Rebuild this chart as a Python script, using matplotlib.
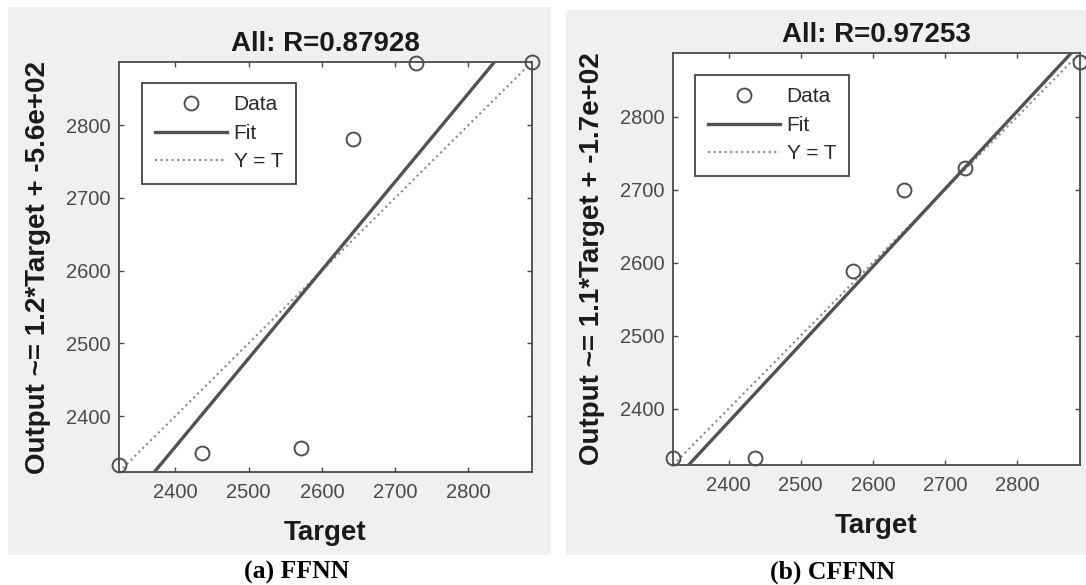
import numpy as np
import matplotlib
matplotlib.use("Agg")
import matplotlib.pyplot as plt
from matplotlib.patches import Rectangle

# ---- data ----
targets = [2323, 2436, 2572, 2643, 2728, 2887]
outputs_ffnn = [2332, 2349, 2356, 2781, 2886, 2887]
outputs_cffnn = [2332, 2332, 2588, 2700, 2730, 2874]
titles = ["All: R=0.87928", "All: R=0.97253"]
ylabels = ["Output ~= 1.2*Target + -5.6e+02", "Output ~= 1.1*Target + -1.7e+02"]
captions = ["(a) FFNN", "(b) CFFNN"]
ticks = [2400, 2500, 2600, 2700, 2800]

W, H = 1086, 585
fig = plt.figure(figsize=(W / 100, H / 100), dpi=100)
fig.patch.set_facecolor("white")

SANS = ["Liberation Sans", "DejaVu Sans"]
SERIF = ["Liberation Serif", "DejaVu Serif"]

def px_rect(x0, y0, x1, y1):
    return [x0 / W, 1 - y1 / H, (x1 - x0) / W, (y1 - y0) / H]

# gray panel backgrounds
for (x0, y0, x1, y1) in [(8, 7, 551, 555), (566, 10, 1086, 555)]:
    r = px_rect(x0, y0, x1, y1)
    rect = Rectangle((r[0], r[1]), r[2], r[3], transform=fig.transFigure,
                     facecolor="#f0f0f0", edgecolor="none", zorder=-10)
    fig.add_artist(rect)

axes_px = [(119, 62, 532, 472), (673, 53, 1080, 465)]
legend_px = [(142, 83), (695, 75)]
caption_x = [297, 833]
series = [outputs_ffnn, outputs_cffnn]

SP = "#4a4a4a"
for i in range(2):
    x0, y0, x1, y1 = axes_px[i]
    ax = fig.add_axes(px_rect(x0, y0, x1, y1))
    ax.set_zorder(5)
    ax.set_facecolor("white")
    t = np.array(targets, dtype=float)
    y = np.array(series[i], dtype=float)
    lo = min(t.min(), y.min())
    hi = max(t.max(), y.max())
    m, b = np.polyfit(t, y, 1)
    xs = np.array([lo, hi])
    ax.plot(t, y, "o", mfc="none", mec="#4f4f4f", ms=10, mew=1.4, clip_on=False,
            zorder=4, label="Data")
    ax.plot(xs, m * xs + b, "-", color="#525252", lw=2.4, zorder=3, label="Fit")
    ax.plot(xs, xs, ":", color="#888888", lw=1.5, zorder=2, label="Y = T")
    ax.set_xlim(lo, hi)
    ax.set_ylim(lo, hi)
    ax.set_xticks(ticks)
    ax.set_yticks(ticks)
    ax.tick_params(direction="in", length=3.5, width=1.0, color=SP,
                   top=True, right=True, labelsize=14.5, labelcolor="#4a4a4a")
    ax.tick_params(axis="x", pad=8)
    ax.tick_params(axis="y", pad=6)
    for lab in ax.get_xticklabels() + ax.get_yticklabels():
        lab.set_family(SANS)
    for s in ax.spines.values():
        s.set_color(SP)
        s.set_linewidth(1.3)
    ax.set_title(titles[i], fontsize=20, fontweight="bold", family=SANS,
                 color="#1a1a1a", pad=8)
    ax.text(0.5, -61.0 / (y1 - y0), "Target", transform=ax.transAxes, ha="center",
            va="center", fontsize=20, fontweight="bold", family=SANS, color="#1a1a1a")
    ax.text(-81.0 / (x1 - x0), 0.5, ylabels[i], transform=ax.transAxes, ha="center",
            va="center", rotation=90, fontsize=20, fontweight="bold", family=SANS,
            color="#1a1a1a")
    lx, ly = legend_px[i]
    leg = ax.legend(loc="upper left",
                    bbox_to_anchor=((lx - x0) / (x1 - x0), 1 - (ly - y0) / (y1 - y0)),
                    borderaxespad=0, fancybox=False, framealpha=1, edgecolor="#444444",
                    handlelength=3.5, handletextpad=0.3, labelspacing=0.45, borderpad=0.6,
                    numpoints=1, prop={"family": SANS, "size": 15})
    leg.get_frame().set_linewidth(1.3)
    for txt in leg.get_texts():
        txt.set_color("#2a2a2a")
    fig.text(caption_x[i] / W, 1 - 572 / H, captions[i], ha="center", va="center",
             fontsize=18.5, fontweight="bold", family=SERIF, color="black")

fig.savefig("out.png", dpi=100, facecolor="white")
